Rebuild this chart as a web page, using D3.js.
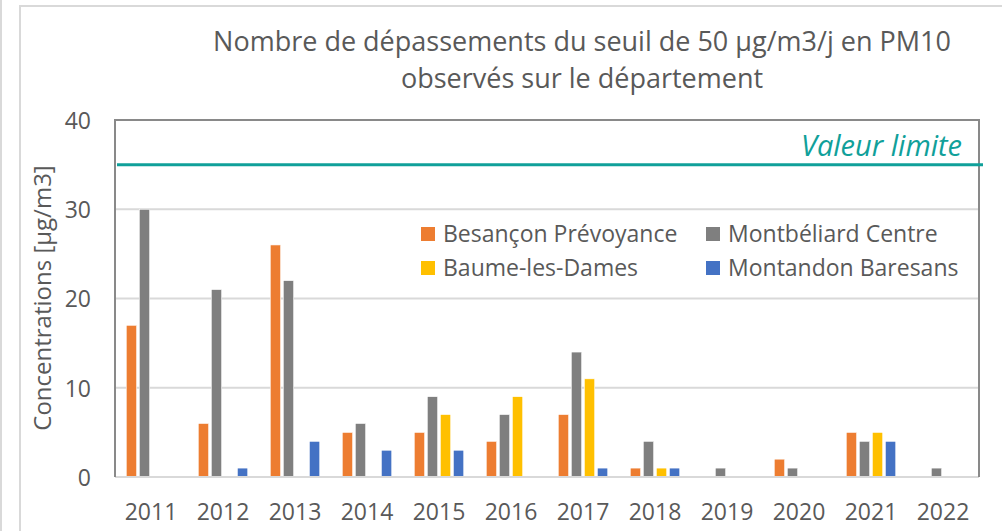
<!DOCTYPE html>
<html>
<head>
  <meta charset="utf-8">
  <script src="https://d3js.org/d3.v7.min.js"></script>
  <style>
    body { margin: 0; overflow: hidden; background: #fff; }
    text { font-family: "Open Sans", sans-serif; fill: #595959; }
  </style>
  <title>PM10</title>
</head>
<body>
  <script>
    // Data
    const years = ["2011", "2012", "2013", "2014", "2015", "2016", "2017", "2018", "2019", "2020", "2021", "2022"];
    const stations = ["Besançon Prévoyance", "Montbéliard Centre", "Baume-les-Dames", "Montandon Baresans"];
    const besancon    = [17, 6, 26, 5, 5, 4, 7, 1, 0, 2, 5, 0];
    const montbeliard = [30, 21, 22, 6, 9, 7, 14, 4, 1, 1, 4, 1];
    const baume       = [0, 0, 0, 0, 7, 9, 11, 1, 0, 0, 5, 0];
    const montandon   = [0, 1, 4, 3, 3, 0, 1, 1, 0, 0, 4, 0];
    const yTicks = [0, 10, 20, 30, 40];
    const limitValue = 35;
    const colors = ["#ED7D31", "#7F7F7F", "#FFC000", "#4472C4"];

    const series = [besancon, montbeliard, baume, montandon];

    const W = 1002, H = 531;
    const plot = { left: 115, right: 979, top: 120, bottom: 477 };

    const svg = d3.select("body").append("svg")
      .attr("width", W)
      .attr("height", H);

    // outer frame
    svg.append("line").attr("x1", 1).attr("x2", 1).attr("y1", 0).attr("y2", H)
      .attr("stroke", "#d9d9d9").attr("stroke-width", 2);
    svg.append("rect")
      .attr("x", 20).attr("y", 6)
      .attr("width", W).attr("height", H)
      .attr("fill", "#fff")
      .attr("stroke", "#d9d9d9").attr("stroke-width", 2);

    // scales
    const x0 = d3.scaleBand()
      .domain(years)
      .range([plot.left, plot.right])
      .paddingInner(0.3125)
      .paddingOuter(0.15625);

    const x1 = d3.scaleBand()
      .domain(d3.range(stations.length))
      .range([0, x0.bandwidth()])
      .paddingInner(0.2);

    const y = d3.scaleLinear()
      .domain([0, 40])
      .range([plot.bottom, plot.top]);

    // gridlines
    svg.append("g")
      .selectAll("line")
      .data(yTicks.slice(1))
      .enter()
      .append("line")
      .attr("x1", plot.left).attr("x2", plot.right)
      .attr("y1", d => y(d)).attr("y2", d => y(d))
      .attr("stroke", "#d9d9d9")
      .attr("stroke-width", 2);

    // y axis labels
    const yAxis = svg.append("g")
      .attr("transform", "translate(" + (plot.left - 24) + ",0)")
      .call(d3.axisLeft(y).tickValues(yTicks).tickSize(0).tickPadding(0));
    yAxis.select(".domain").remove();
    yAxis.selectAll("text")
      .style("font-family", "Open Sans")
      .style("font-size", "23px")
      .attr("fill", "#595959")
      .attr("dy", "0.36em");

    // x axis labels
    const xAxis = svg.append("g")
      .attr("transform", "translate(0," + plot.bottom + ")")
      .call(d3.axisBottom(x0).tickSize(0).tickPadding(0));
    xAxis.select(".domain").remove();
    xAxis.selectAll("text")
      .style("font-family", "Open Sans")
      .style("font-size", "23px")
      .attr("fill", "#595959")
      .attr("y", 43)
      .attr("dy", 0);

    // bars
    const groups = svg.append("g")
      .selectAll("g")
      .data(years)
      .enter()
      .append("g")
      .attr("transform", d => "translate(" + x0(d) + ",0)");

    groups.selectAll("rect")
      .data((d, i) => series.map((s, k) => ({ k: k, v: s[i] })).filter(e => e.v > 0))
      .enter()
      .append("rect")
      .attr("x", d => x1(d.k))
      .attr("y", d => y(d.v))
      .attr("width", x1.bandwidth())
      .attr("height", d => y(0) - y(d.v))
      .attr("fill", d => colors[d.k])
      .attr("stroke", "#fff")
      .attr("stroke-width", 0.6);

    // plot border (left, top, right dark; bottom light)
    svg.append("line")
      .attr("x1", plot.left).attr("x2", plot.right)
      .attr("y1", plot.bottom).attr("y2", plot.bottom)
      .attr("stroke", "#d9d9d9").attr("stroke-width", 2);
    svg.append("path")
      .attr("d", "M" + plot.left + "," + plot.bottom + "V" + plot.top + "H" + plot.right + "V" + plot.bottom)
      .attr("fill", "none")
      .attr("stroke", "#898989")
      .attr("stroke-width", 2);

    // limit line
    svg.append("line")
      .attr("x1", plot.left + 2).attr("x2", plot.right + 4)
      .attr("y1", y(limitValue)).attr("y2", y(limitValue))
      .attr("stroke", "#10A09A")
      .attr("stroke-width", 3);
    svg.append("text")
      .attr("x", plot.right - 17)
      .attr("y", y(limitValue) - 9)
      .attr("text-anchor", "end")
      .style("font-size", "29px")
      .style("font-style", "italic")
      .style("fill", "#10A09A")
      .text("Valeur limite");

    // legend
    const legendPos = [[421, 234], [706, 234], [421, 268], [706, 268]];
    const legend = svg.append("g")
      .selectAll("g")
      .data(stations)
      .enter()
      .append("g")
      .attr("transform", (d, i) => "translate(" + legendPos[i][0] + "," + legendPos[i][1] + ")");
    legend.append("rect")
      .attr("x", 0).attr("y", -7)
      .attr("width", 14).attr("height", 14)
      .attr("fill", (d, i) => colors[i]);
    legend.append("text")
      .attr("x", 22)
      .attr("dy", "0.36em")
      .style("font-size", "23px")
      .text(d => d);

    // title (two lines)
    const titleLines = ["Nombre de dépassements du seuil de 50 µg/m3/j en PM10", "observés sur le département"];
    svg.append("g")
      .selectAll("text")
      .data(titleLines)
      .enter()
      .append("text")
      .attr("x", 582)
      .attr("y", (d, i) => 51 + i * 37)
      .attr("text-anchor", "middle")
      .style("font-size", "27px")
      .text(d => d);

    // y axis title
    svg.append("text")
      .attr("transform", "translate(51,298) rotate(-90)")
      .attr("text-anchor", "middle")
      .style("font-size", "24px")
      .text("Concentrations [µg/m3]");
  </script>
</body>
</html>
